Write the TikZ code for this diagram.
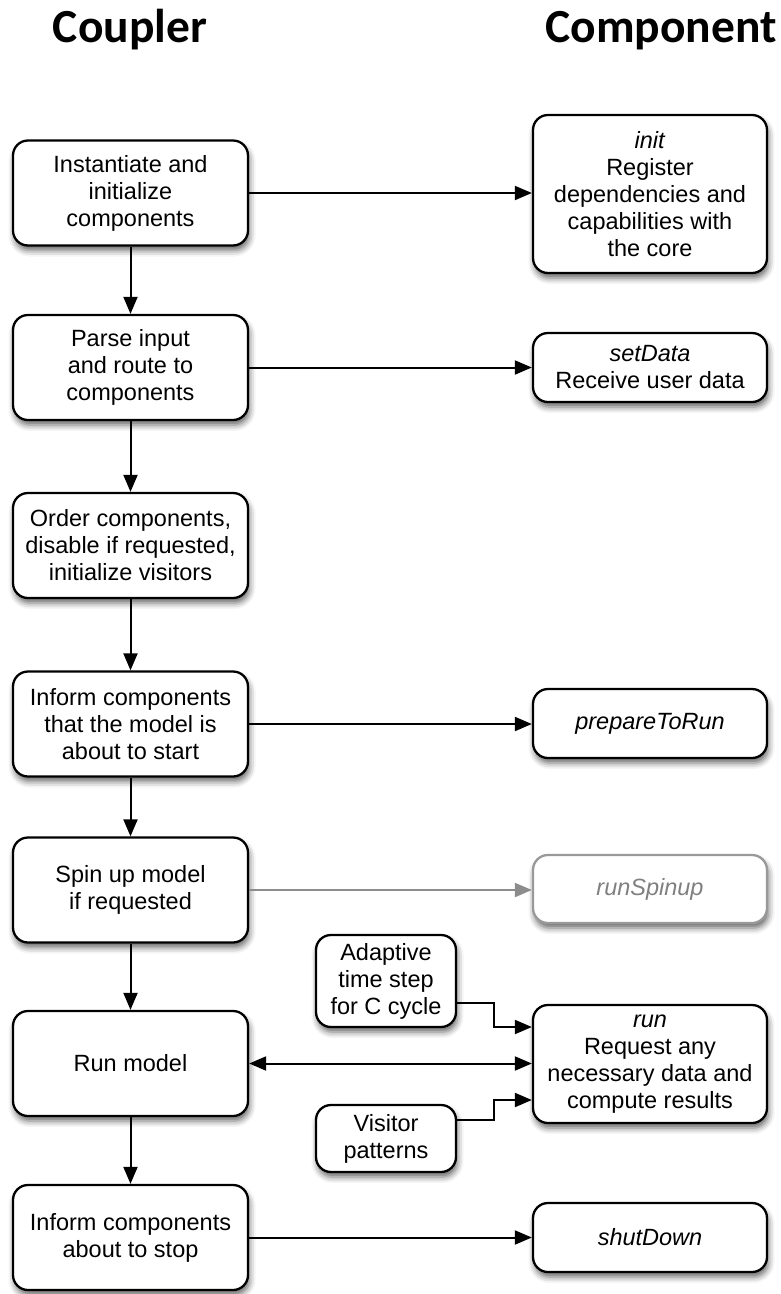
\documentclass[tikz,border=0pt]{standalone}
\usepackage{fontspec}
\setmainfont{Liberation Sans}
\newfontfamily\headfont{Carlito}
\usetikzlibrary{arrows.meta,shadows.blur}
\begin{document}
\begin{tikzpicture}[x=1pt,y=-1pt,
  box/.style={draw=black, line width=2.3pt, rounded corners=15pt, fill=white,
    align=center, font=\fontsize{23.5}{27}\selectfont, inner sep=0pt,
    blur shadow={shadow xshift=1.5pt, shadow yshift=-5pt, shadow blur radius=6pt, shadow opacity=60}},
  lbox/.style={box, minimum width=235pt, minimum height=105pt},
  rbox/.style={box, minimum width=234pt},
  sbox/.style={box, minimum width=140pt},
  greybox/.style={rbox, draw=black!40, text=black!50},
  tip/.style={},
  arr/.style={line width=2pt, -{Triangle[length=17pt,width=14pt]}},
  garr/.style={line width=2pt, draw=black!45, -{Triangle[length=17pt,width=14pt,fill=black!45]}},
  darr/.style={line width=2pt, {Triangle[length=17pt,width=14pt]}-{Triangle[length=17pt,width=14pt]}},
  head/.style={font=\headfont\bfseries\fontsize{47.5}{52}\selectfont, anchor=base, inner sep=0pt}
]
\useasboundingbox (0,0) rectangle (781,1294);

\node[head] (hcoup) at (130,42) {Coupler};
\node[head] (hcomp) at (661,42) {Component};

\node[lbox] (b1) at (130.5,193) {Instantiate and\\initialize\\components};
\node[lbox] (b2) at (130.5,367.5) {Parse input\\and route to\\components};
\node[lbox] (b3) at (130.5,545.5) {Order components,\\disable if requested,\\initialize visitors};
\node[lbox] (b4) at (130.5,724) {Inform components\\that the model is\\about to start};
\node[lbox] (b5) at (130.5,890) {Spin up model\\if requested};
\node[lbox] (b6) at (130.5,1063.5) {Run model};
\node[lbox] (b7) at (130.5,1237.5) {Inform components\\about to stop};

\node[rbox, minimum height=158pt] (init) at (650,194) {\textit{init}\\Register\\dependencies and\\capabilities with\\the core};
\node[rbox, minimum height=69pt] (setd) at (650,367.5) {\textit{setData}\\Receive user data};
\node[rbox, minimum height=69pt] (prep) at (650,723.5) {\textit{prepareToRun}};
\node[greybox, minimum height=68pt] (spin) at (650,889) {\textit{runSpinup}};
\node[rbox, minimum height=118pt] (run) at (650,1064) {\textit{run}\\Request any\\necessary data and\\compute results};
\node[rbox, minimum height=69pt] (shut) at (650,1237.5) {\textit{shutDown}};

\node[sbox, minimum height=92pt] (ad) at (386,981) {Adaptive\\time step\\for C cycle};
\node[sbox, minimum height=67pt] (vis) at (386,1138.5) {Visitor\\patterns};

\draw[arr] (b1) -- (b2);
\draw[arr] (b2) -- (b3);
\draw[arr] (b3) -- (b4);
\draw[arr] (b4) -- (b5);
\draw[arr] (b5) -- (b6);
\draw[arr] (b6) -- (b7);

\draw[arr] (b1.east) -- (b1.east -| init.west);
\draw[arr] (b2.east) -- (b2.east -| setd.west);
\draw[arr] (b4.east) -- (b4.east -| prep.west);
\draw[garr] (b5.east) -- (b5.east -| spin.west);
\draw[darr] (b6.east) -- (b6.east -| run.west);
\draw[arr] (b7.east) -- (b7.east -| shut.west);

\draw[arr] ([yshift=-22pt]ad.east) -- ++(37,0) |- ([yshift=37pt]run.west);
\draw[arr] ([yshift=18.5pt]vis.east) -- ++(37,0) |- ([yshift=-36pt]run.west);
\end{tikzpicture}
\end{document}
